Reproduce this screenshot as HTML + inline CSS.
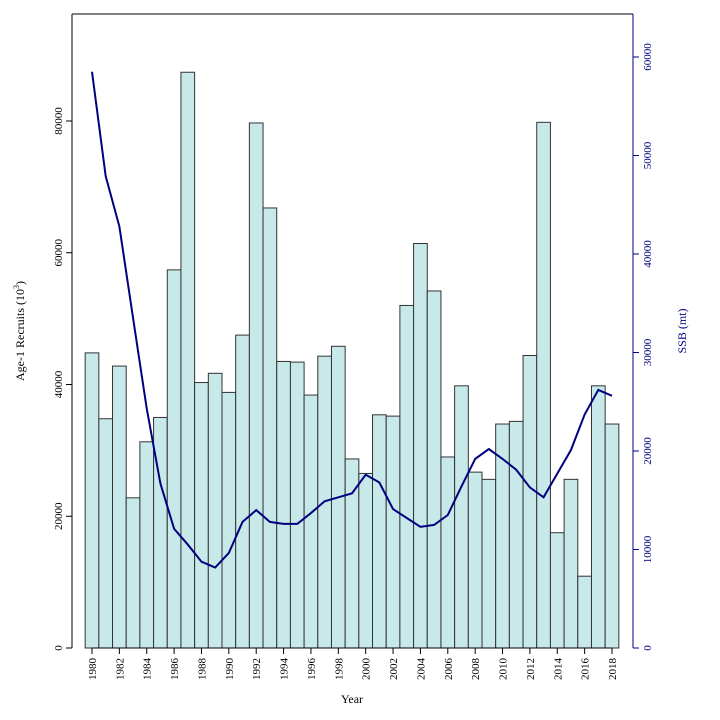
<!DOCTYPE html>
<html><head><meta charset="utf-8"><style>
body{margin:0;background:#fff}
svg{display:block;font-family:"Liberation Serif",serif}
</style></head><body>
<svg id="chart" width="720" height="720" viewBox="0 0 720 720" xmlns="http://www.w3.org/2000/svg">
<g id="bars"></g>
<polyline id="ssb" fill="none" stroke="#000080" stroke-width="2"/>
<g id="axes"></g>
<text x="352" y="703" font-size="12" text-anchor="middle">Year</text>
<text transform="translate(24,331) rotate(-90)" font-size="12" text-anchor="middle">Age-1 Recruits (10<tspan font-size="8" dy="-5">3</tspan><tspan dy="5">)</tspan></text>
<text transform="translate(686,331) rotate(-90)" font-size="12" text-anchor="middle" fill="#000080">SSB (mt)</text>
</svg>
<script>
const years=[1980,1981,1982,1983,1984,1985,1986,1987,1988,1989,1990,1991,1992,1993,1994,1995,1996,1997,1998,1999,2000,2001,2002,2003,2004,2005,2006,2007,2008,2009,2010,2011,2012,2013,2014,2015,2016,2017,2018];
const recruits=[44800,34800,42800,22800,31300,35000,57400,87400,40300,41700,38800,47500,79700,66800,43500,43400,38400,44300,45800,28700,26500,35400,35200,52000,61400,54200,29000,39800,26700,25600,34000,34400,44400,79800,17500,25600,10900,39800,34000];
const ssb=[58500,47900,42800,33500,24300,16700,12100,10500,8760,8170,9650,12800,14000,12800,12600,12600,13700,14900,15300,15700,17600,16800,14100,13200,12300,12500,13500,16400,19200,20200,19200,18100,16300,15300,17700,20100,23700,26200,25600];
const yTicks=[0,20000,40000,60000,80000];
const y2Ticks=[0,10000,20000,30000,40000,50000,60000];
const NS="http://www.w3.org/2000/svg";
const L=72,R=633,T=14,B=648;
const bw=(612-92)/38;
const xs=y=>92+(y-1980)*bw;
const ys=v=>B-v*(B-121)/80000;
const ys2=v=>B-v*(B-57)/60000;
function mk(tag,attrs,parent){const e=document.createElementNS(NS,tag);for(const k in attrs)e.setAttribute(k,attrs[k]);parent.appendChild(e);return e;}
const gb=document.getElementById('bars');
years.forEach((yr,i)=>{
  const r=mk('rect',{x:xs(yr)-bw/2,y:ys(recruits[i]),width:bw,height:B-ys(recruits[i]),fill:'#c8e9ea',stroke:'#333',"stroke-width":1},gb);
  
  
});
document.getElementById('ssb').setAttribute('points',years.map((yr,i)=>xs(yr)+','+ys2(ssb[i])).join(' '));
const ga=document.getElementById('axes');
mk('line',{x1:L,y1:T,x2:R,y2:T,stroke:'#000'},ga);
mk('line',{x1:L,y1:T,x2:L,y2:B,stroke:'#000'},ga);
mk('line',{x1:R,y1:T,x2:R,y2:B,stroke:'#000080'},ga);
mk('line',{x1:xs(1980),y1:B,x2:xs(2018),y2:B,stroke:'#000'},ga);
yTicks.forEach(v=>{
  mk('line',{x1:L-6,y1:ys(v),x2:L,y2:ys(v),stroke:'#000'},ga);
  const t=mk('text',{transform:`translate(${L-10},${ys(v)}) rotate(-90)`,"font-size":11,"text-anchor":"middle"},ga);
  t.textContent=v;
  
  
});
y2Ticks.forEach(v=>{
  mk('line',{x1:R,y1:ys2(v),x2:R+6,y2:ys2(v),stroke:'#000080'},ga);
  const t=mk('text',{transform:`translate(${R+18},${ys2(v)}) rotate(-90)`,"font-size":11,"text-anchor":"middle",fill:'#000080'},ga);
  t.textContent=v;
  
  
});
years.filter(y=>y%2===0).forEach(yr=>{
  mk('line',{x1:xs(yr),y1:B,x2:xs(yr),y2:B+6,stroke:'#000'},ga);
  const t=mk('text',{transform:`translate(${xs(yr)+4},${B+10}) rotate(-90)`,"font-size":11,"text-anchor":"end"},ga);
  t.textContent=yr;
  
  
});
</script>
</body></html>
